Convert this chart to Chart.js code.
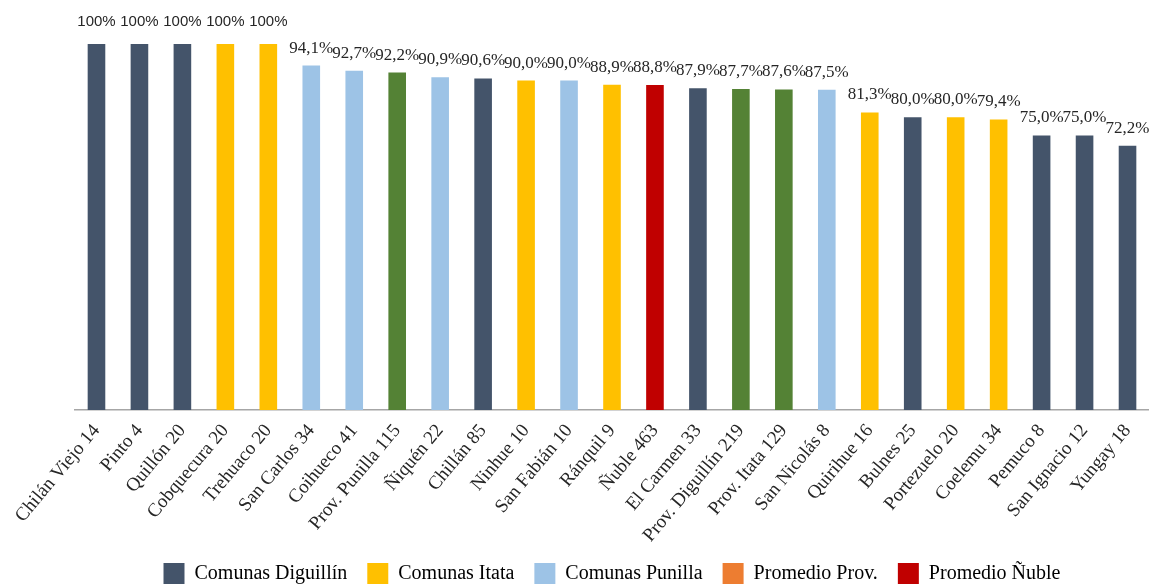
<!DOCTYPE html>
<html>
<head>
<meta charset="utf-8">
<script src="https://cdn.jsdelivr.net/npm/chart.js@4.4.0/dist/chart.umd.min.js"></script>
<style>
  body { margin: 0; background: #fff; }
  #wrap { width: 1149px; height: 586px; position: relative; }
</style>
</head>
<body>
<div id="wrap"><canvas id="myChart"></canvas></div>
<script>
// Data
const categories = ["Chilán Viejo 14", "Pinto 4", "Quillón 20", "Cobquecura 20", "Trehuaco 20",
  "San Carlos 34", "Coihueco 41", "Prov. Punilla 115", "Ñiquén 22", "Chillán 85", "Ninhue 10",
  "San Fabián 10", "Ránquil 9", "Ñuble 463", "El Carmen 33", "Prov. Diguillín 219", "Prov. Itata 129",
  "San Nicolás 8", "Quirihue 16", "Bulnes 25", "Portezuelo 20", "Coelemu 34", "Pemuco 8",
  "San Ignacio 12", "Yungay 18"];
const values = [100, 100, 100, 100, 100, 94.1, 92.7, 92.2, 90.9, 90.6, 90.0, 90.0, 88.9, 88.8,
  87.9, 87.7, 87.6, 87.5, 81.3, 80.0, 80.0, 79.4, 75.0, 75.0, 72.2];
// group of each bar: D = Diguillín, I = Itata, P = Punilla, V = provincia, N = Ñuble
const groups = ["D", "D", "D", "I", "I", "P", "P", "V", "P", "D", "I", "P", "I", "N",
  "D", "V", "V", "P", "I", "D", "I", "I", "D", "D", "D"];
const legendNames = ["Comunas Diguillín", "Comunas Itata", "Comunas Punilla", "Promedio Prov.", "Promedio Ñuble"];

const barColors = { D: "#44546A", I: "#FFC000", P: "#9DC3E6", V: "#548235", N: "#C00000" };
const legendColors = ["#44546A", "#FFC000", "#9DC3E6", "#ED7D31", "#C00000"];

const serif = "'Liberation Serif', 'DejaVu Serif', serif";

function fmt(v) {
  return v === 100 ? "100%" : v.toFixed(1).replace(".", ",") + "%";
}

// draws the value above each bar
const valueLabels = {
  id: "valueLabels",
  afterDatasetsDraw(chart) {
    const ctx = chart.ctx;
    const meta = chart.getDatasetMeta(0);
    ctx.save();
    ctx.fillStyle = "#262626";
    ctx.textAlign = "center";
    ctx.textBaseline = "bottom";
    meta.data.forEach((bar, i) => {
      const full = values[i] === 100;
      ctx.font = full ? "15px 'Liberation Sans', sans-serif" : "17px " + serif;
      ctx.fillText(fmt(values[i]), bar.x, bar.y - (full ? 15 : 9));
    });
    ctx.restore();
  }
};

new Chart(document.getElementById("myChart").getContext("2d"), {
  type: "bar",
  data: {
    labels: categories,
    datasets: [{
      data: values,
      backgroundColor: groups.map(g => barColors[g]),
      barPercentage: 0.41,
      categoryPercentage: 1
    }]
  },
  options: {
    responsive: true,
    maintainAspectRatio: false,
    animation: false,
    layout: { padding: { top: 44, left: 75, right: 0, bottom: -8 } },
    plugins: {
      tooltip: { enabled: false },
      legend: {
        position: "bottom",
        labels: {
          font: { family: serif, size: 20 },
          color: "#262626",
          boxWidth: 21,
          boxHeight: 21,
          padding: 20,
          generateLabels: () => legendNames.map((name, i) => ({
            text: name,
            fillStyle: legendColors[i],
            strokeStyle: legendColors[i],
            lineWidth: 0,
            index: i
          }))
        }
      }
    },
    scales: {
      x: {
        grid: { display: false },
        border: { display: true, color: "#A6A6A6", width: 1.5 },
        afterFit(scale) {
          scale.paddingLeft = 0;
          scale.paddingRight = 0;
          scale.height = 133;
        },
        ticks: {
          autoSkip: false,
          maxRotation: 50,
          minRotation: 50,
          padding: 2,
          color: "#262626",
          font: { family: serif, size: 19 }
        }
      },
      y: {
        display: false,
        min: 0,
        max: 100
      }
    }
  },
  plugins: [valueLabels]
});
</script>
</body>
</html>
